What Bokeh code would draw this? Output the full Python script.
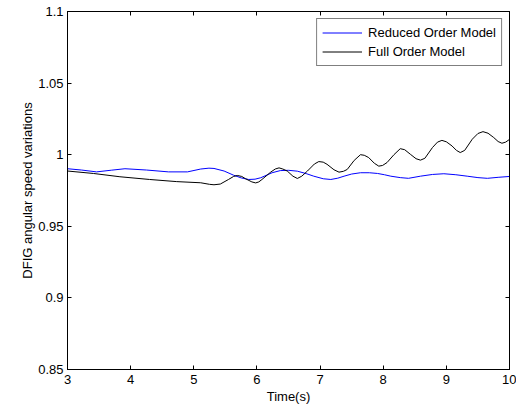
from bokeh.plotting import figure
from bokeh.models import (LinearAxis, FixedTicker, CustomJSTickFormatter, Legend, LegendItem, Range1d)
from bokeh.embed import file_html
from bokeh.resources import INLINE

# Data
t_full = [3.00, 3.41, 3.83, 4.30, 4.73, 5.11, 5.25, 5.32, 5.42, 5.55, 5.63, 5.69, 5.76, 5.82,
          5.92, 5.98, 6.03, 6.08, 6.22, 6.29, 6.35, 6.41, 6.48, 6.57, 6.64, 6.71, 6.80, 6.91,
          6.98, 7.05, 7.11, 7.22, 7.30, 7.37, 7.43, 7.54, 7.64, 7.70, 7.77, 7.86, 7.93, 7.99,
          8.06, 8.17, 8.27, 8.34, 8.43, 8.52, 8.59, 8.66, 8.78, 8.86, 8.93, 9.00, 9.09, 9.16,
          9.22, 9.29, 9.41, 9.50, 9.58, 9.66, 9.75, 9.82, 9.88, 9.94, 10.00]
v_full = [0.9886, 0.9869, 0.9846, 0.9827, 0.9812, 0.9804, 0.9793, 0.9790, 0.9795, 0.9827,
          0.9848, 0.9855, 0.9848, 0.9832, 0.9810, 0.9803, 0.9810, 0.9827, 0.9879, 0.9900,
          0.9908, 0.9900, 0.9886, 0.9850, 0.9834, 0.9850, 0.9886, 0.9935, 0.9952, 0.9948,
          0.9933, 0.9895, 0.9878, 0.9884, 0.9897, 0.9960, 1.0000, 0.9996, 0.9980, 0.9940,
          0.9920, 0.9925, 0.9945, 1.0000, 1.0042, 1.0035, 1.0003, 0.9972, 0.9962, 0.9975,
          1.0050, 1.0088, 1.0100, 1.0090, 1.0061, 1.0030, 1.0015, 1.0030, 1.0108, 1.0148,
          1.0161, 1.0150, 1.0120, 1.0092, 1.0080, 1.0088, 1.0107]

t_red = [3.00, 3.22, 3.46, 3.70, 3.91, 4.25, 4.60, 4.90, 5.11, 5.24, 5.32, 5.48, 5.63, 5.75,
         5.87, 5.97, 6.06, 6.24, 6.37, 6.50, 6.64, 6.78, 6.90, 7.05, 7.17, 7.28, 7.38, 7.50,
         7.64, 7.78, 7.91, 8.02, 8.12, 8.27, 8.40, 8.59, 8.78, 8.96, 9.15, 9.33, 9.50, 9.65,
         9.82, 10.00]
v_red = [0.9902, 0.9893, 0.9880, 0.9892, 0.9902, 0.9893, 0.9880, 0.9880, 0.9900, 0.9906,
         0.9904, 0.9886, 0.9857, 0.9838, 0.9827, 0.9829, 0.9839, 0.9874, 0.9889, 0.9891,
         0.9885, 0.9868, 0.9850, 0.9832, 0.9827, 0.9836, 0.9850, 0.9865, 0.9874, 0.9874,
         0.9869, 0.9860, 0.9850, 0.9840, 0.9835, 0.9850, 0.9862, 0.9867, 0.9860, 0.9850,
         0.9840, 0.9835, 0.9842, 0.9848]

x_ticks = [3, 4, 5, 6, 7, 8, 9, 10]
y_ticks = [0.85, 0.9, 0.95, 1.0, 1.05, 1.1]

FONT = "Liberation Sans"
FS = "13px"

p = figure(width=516, height=408, output_backend="svg", toolbar_location=None,
           x_range=Range1d(3, 10), y_range=Range1d(0.85, 1.1),
           min_border_left=67, min_border_right=7, min_border_top=11, min_border_bottom=39,
           x_axis_label="Time(s)", y_axis_label="DFIG angular speed variations")

p.xgrid.visible = False
p.ygrid.visible = False
p.outline_line_color = "black"
p.outline_line_width = 1
p.background_fill_color = "white"
p.border_fill_color = "white"

fmt = CustomJSTickFormatter(code="return String(Math.round(tick*100)/100);")

for ax in p.xaxis:
    ax.ticker = FixedTicker(ticks=x_ticks)
for ax in p.yaxis:
    ax.ticker = FixedTicker(ticks=y_ticks)
    ax.formatter = fmt

for ax in list(p.xaxis) + list(p.yaxis):
    ax.major_tick_in = 4
    ax.major_tick_out = 0
    ax.minor_tick_line_color = None
    ax.axis_line_color = "black"
    ax.major_tick_line_color = "black"
    ax.major_label_text_font = FONT
    ax.major_label_text_font_size = FS
    ax.major_label_text_color = "black"
    ax.axis_label_text_font = FONT
    ax.axis_label_text_font_size = FS
    ax.axis_label_text_font_style = "normal"
    ax.axis_label_text_color = "black"

p.xaxis.major_label_standoff = 5
p.xaxis.axis_label_standoff = 2
p.yaxis.major_label_standoff = 4
p.yaxis.axis_label_standoff = 0

# top and right axes carrying only inward ticks (MATLAB box style)
top = LinearAxis(ticker=FixedTicker(ticks=x_ticks), major_label_text_color=None,
                 major_label_standoff=0, major_tick_in=4, major_tick_out=0,
                 minor_tick_line_color=None, axis_line_color="black")
right = LinearAxis(ticker=FixedTicker(ticks=y_ticks), major_label_text_color=None,
                   major_label_standoff=0, major_tick_in=4, major_tick_out=0,
                   minor_tick_line_color=None, axis_line_color="black")
p.add_layout(top, "above")
p.add_layout(right, "right")

r_red = p.line(t_red, v_red, line_color="#0000ff", line_width=1)
r_full = p.line(t_full, v_full, line_color="black", line_width=1)

legend = Legend(items=[LegendItem(label="Reduced Order Model", renderers=[r_red]),
                       LegendItem(label="Full Order Model", renderers=[r_full])],
                location="top_right")
legend.label_text_font = FONT
legend.label_text_font_size = FS
legend.label_text_color = "black"
legend.glyph_width = 40
legend.glyph_height = 17
legend.label_height = 17
legend.spacing = 2
legend.padding = 5
legend.margin = 7
legend.label_standoff = 6
legend.border_line_color = "black"
legend.border_line_width = 1
legend.background_fill_alpha = 1
p.add_layout(legend, "center")

open("out.html", "w").write(file_html(p, INLINE))
